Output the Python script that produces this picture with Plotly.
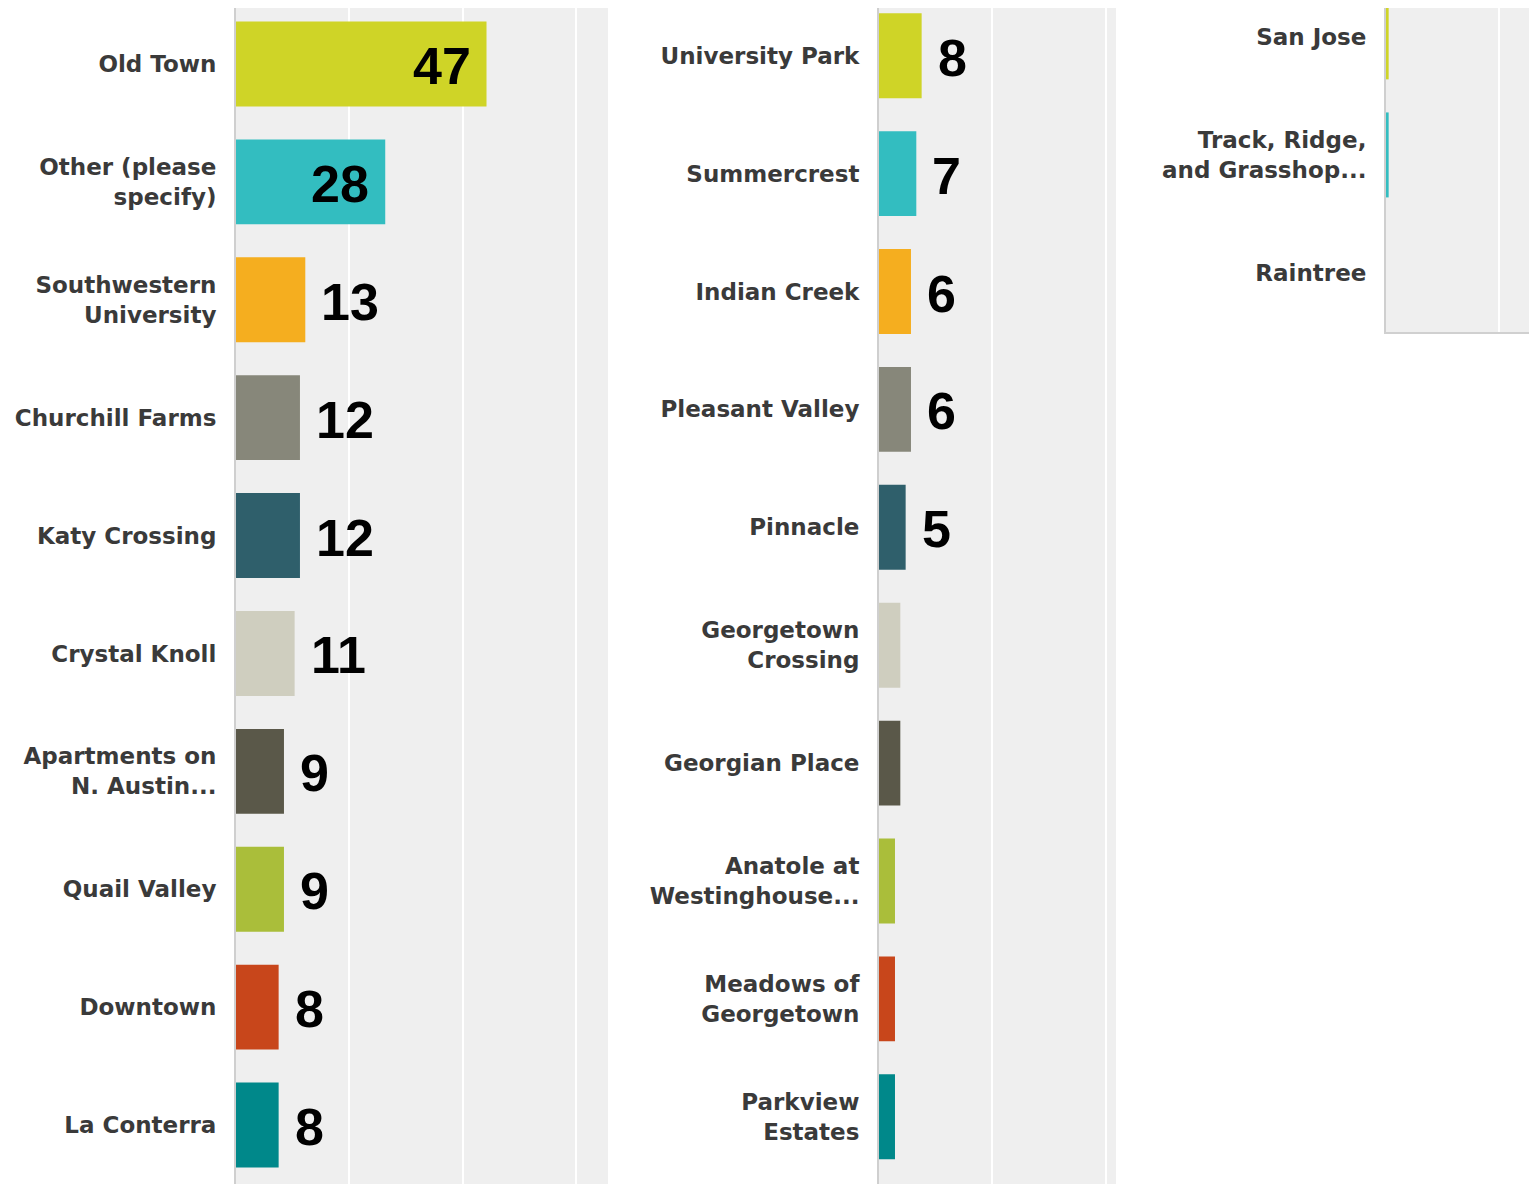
import plotly.graph_objects as go

# ---- data ----
cats1 = ["Old Town", "Other (please<br>specify)", "Southwestern<br>University", "Churchill Farms",
         "Katy Crossing", "Crystal Knoll", "Apartments on<br>N. Austin...", "Quail Valley",
         "Downtown", "La Conterra"]
vals1 = [47, 28, 13, 12, 12, 11, 9, 9, 8, 8]
labels1 = ["47", "28", "13", "12", "12", "11", "9", "9", "8", "8"]

cats2 = ["University Park", "Summercrest", "Indian Creek", "Pleasant Valley", "Pinnacle",
         "Georgetown<br>Crossing", "Georgian Place", "Anatole at<br>Westinghouse...",
         "Meadows of<br>Georgetown", "Parkview<br>Estates"]
vals2 = [8, 7, 6, 6, 5, 4, 4, 3, 3, 3]
labels2 = ["8", "7", "6", "6", "5", "", "", "", "", ""]

cats3 = ["San Jose", "Track, Ridge,<br>and Grasshop...", "Raintree"]
vals3 = [0.5, 0.5, 0]
labels3 = ["", "", ""]

palette = ["#CFD427", "#33BDC0", "#F5AE1F", "#87877A", "#2F5F6B",
           "#CFCEBF", "#5A5849", "#AABE3A", "#C8461B", "#00888A"]

# ---- figure ----
OFF = 8  # page body margin
W, H = 1537 - OFF, 1184 - OFF
fig = go.Figure()

panels = [
    (cats1, vals1, labels1, "x", "y"),
    (cats2, vals2, labels2, "x2", "y2"),
    (cats3, vals3, labels3, "x3", "y3"),
]
for cats, vals, labels, xa, ya in panels:
    fig.add_trace(go.Bar(
        x=vals, y=cats, orientation="h", xaxis=xa, yaxis=ya,
        marker=dict(color=palette[:len(vals)], line=dict(width=0)),
        width=0.72, showlegend=False, hoverinfo="x+y",
    ))

# value labels
inside_min = 20
annotations = []
for cats, vals, labels, xa, ya in panels:
    for c, v, t in zip(cats, vals, labels):
        if not t:
            continue
        inside = v >= inside_min
        annotations.append(dict(
            x=v, y=c, xref=xa, yref=ya, text=t, showarrow=False,
            xanchor="right" if inside else "left",
            xshift=-14 if inside else 14, yshift=-2,
            font=dict(family="Liberation Sans, Arial, sans-serif", size=52, color="#000000", weight="bold"),
        ))

label_font = dict(family="DejaVu Sans, Verdana, sans-serif", size=23, color="#3a3a3a", weight="bold")
ppu = 5.33  # pixels per unit
grid = 21.25


def xdom(a, b):
    a, b = max(a - OFF, 0), min(b - OFF, W)
    return [a / W, b / W]


def ydom(top, bottom):
    top, bottom = max(top - OFF, 0), min(bottom - OFF, H)
    return [1 - bottom / H, 1 - top / H]


common_x = dict(showticklabels=False, showgrid=True, gridcolor="#ffffff", gridwidth=2,
                zeroline=False, tick0=0, dtick=grid, ticks="", fixedrange=True)
common_y = dict(type="category", showgrid=False, zeroline=False, ticks="",
                ticklabelstandoff=13, tickfont=label_font, showline=True,
                linecolor="#cfcfcf", linewidth=2, fixedrange=True)

# plot tops start at page y=8 (reference 5): shift category range to keep bars aligned
cat_px = 118.0
d = (OFF - 5) / cat_px

fig.update_layout(
    width=W, height=H,
    margin=dict(l=0, r=0, t=0, b=0),
    paper_bgcolor="#ffffff", plot_bgcolor="#efefef",
    xaxis=dict(domain=xdom(236, 608), range=[0, (608 - 236) / ppu], anchor="y", **common_x),
    yaxis=dict(domain=ydom(5, 1184), range=[9.5, -0.5 + d], anchor="x", **common_y),
    xaxis2=dict(domain=xdom(879, 1116), range=[0, (1116 - 879) / ppu], anchor="y2", **common_x),
    yaxis2=dict(domain=ydom(5, 1184), range=[9.57, -0.43 + d], anchor="x2", **common_y),
    xaxis3=dict(domain=xdom(1386, 1537), range=[0, (1537 - 1386) / ppu], anchor="y3",
                showline=True, linecolor="#d0d0d0", linewidth=2, **common_x),
    yaxis3=dict(domain=ydom(5, 332), range=[2.5, -0.27 + d], anchor="x3", **common_y),
    annotations=annotations,
)

fig.write_html("out.html")
